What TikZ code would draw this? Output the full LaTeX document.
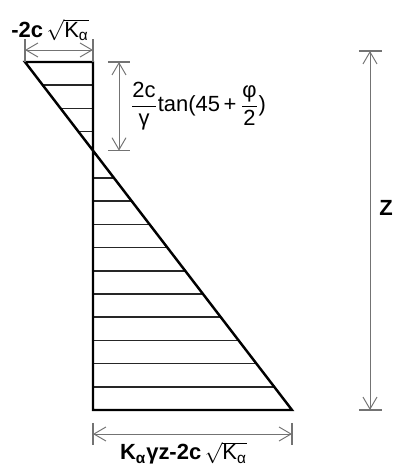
\documentclass[tikz,border=0pt]{standalone}
\usepackage{amsmath}
\usepackage{fontspec}
\setmainfont{Liberation Sans}
\usetikzlibrary{arrows.meta,positioning,calc}

\begin{document}
\begin{tikzpicture}[
  muro/.style={line width=1.4pt, line join=miter},
  rayado/.style={line width=1pt, black!85},
  cota/.style={{Straight Barb[length=2.4mm,width=2.8mm]}-{Straight Barb[length=2.4mm,width=2.8mm]}, draw=black!55, line width=0.55pt},
  tope/.style={draw=black!55, line width=0.9pt},
  etiq/.style={font=\fontsize{12.5}{15}\selectfont, inner sep=0pt}]
\useasboundingbox (0,0) rectangle (7.9,9.34);
\coordinate (tl) at (0.5,8.1);
\coordinate (wt) at (1.86,8.1);
\coordinate (wb) at (1.86,1.14);
\coordinate (br) at (5.84,1.14);
\coordinate (piv) at (1.86,6.327);

% rayado del diagrama
\foreach \k in {1,2,3,5,6,7,8,9,10,11,12,13,14}
  \draw[rayado] ($(tl)!\k/15!(br)$) -- ($(wt)!\k/15!(wb)$);
\draw[muro] (tl) -- (br) -- (wb) -- (wt) -- cycle;

% cota superior
\coordinate (tlu) at (0.5,8.56);
\coordinate (wtu) at (1.86,8.56);
\coordinate (ta1) at (0.5,8.34);
\coordinate (ta2) at (1.86,8.34);
\draw[tope] (tl) -- (tlu);
\draw[tope] (wt) -- (wtu);
\draw[cota] (ta1) -- (ta2);
\node[etiq, anchor=base] (kTop) at (1.0,8.6) {\textbf{-2c}\,$\sqrt{\text{K}_{\text{α}}}$};

% cota de la grieta
\coordinate (g1a) at (2.16,8.1);  \coordinate (g1b) at (2.6,8.1);
\coordinate (g2a) at (2.16,6.327); \coordinate (g2b) at (2.6,6.327);
\coordinate (g1) at (2.38,8.1);   \coordinate (g2) at (2.38,6.327);
\draw[tope] (g1a) -- (g1b);
\draw[tope] (g2a) -- (g2b);
\draw[cota] (g1) -- (g2);
\node[etiq, anchor=west] (zc) at (2.6,7.22) {$\dfrac{\text{2c}}{\text{γ}}$tan(45\,+\,$\dfrac{\text{φ}}{\text{2}}$)};

% cota z
\coordinate (z1a) at (7.18,8.32); \coordinate (z1b) at (7.64,8.32);
\coordinate (z2a) at (7.18,1.14); \coordinate (z2b) at (7.64,1.14);
\coordinate (z1) at (7.4,8.32);   \coordinate (z2) at (7.4,1.14);
\draw[tope] (z1a) -- (z1b);
\draw[tope] (z2a) -- (z2b);
\draw[cota] (z1) -- (z2);
\node[etiq, font=\fontsize{12.5}{15}\selectfont\bfseries] (zlbl) at (7.72,5.18) {Z};

% cota inferior
\coordinate (b1a) at (1.86,0.88); \coordinate (b1b) at (1.86,0.44);
\coordinate (b2a) at (5.84,0.88); \coordinate (b2b) at (5.84,0.44);
\coordinate (b1) at (1.86,0.66);  \coordinate (b2) at (5.84,0.66);
\draw[tope] (b1a) -- (b1b);
\draw[tope] (b2a) -- (b2b);
\draw[cota] (b1) -- (b2);
\node[etiq, anchor=base] (kBot) at (3.67,0.14) {\textbf{K\textsubscript{α}γz-2c}\,$\sqrt{\text{K}_{\text{α}}}$};
\end{tikzpicture}
\end{document}
